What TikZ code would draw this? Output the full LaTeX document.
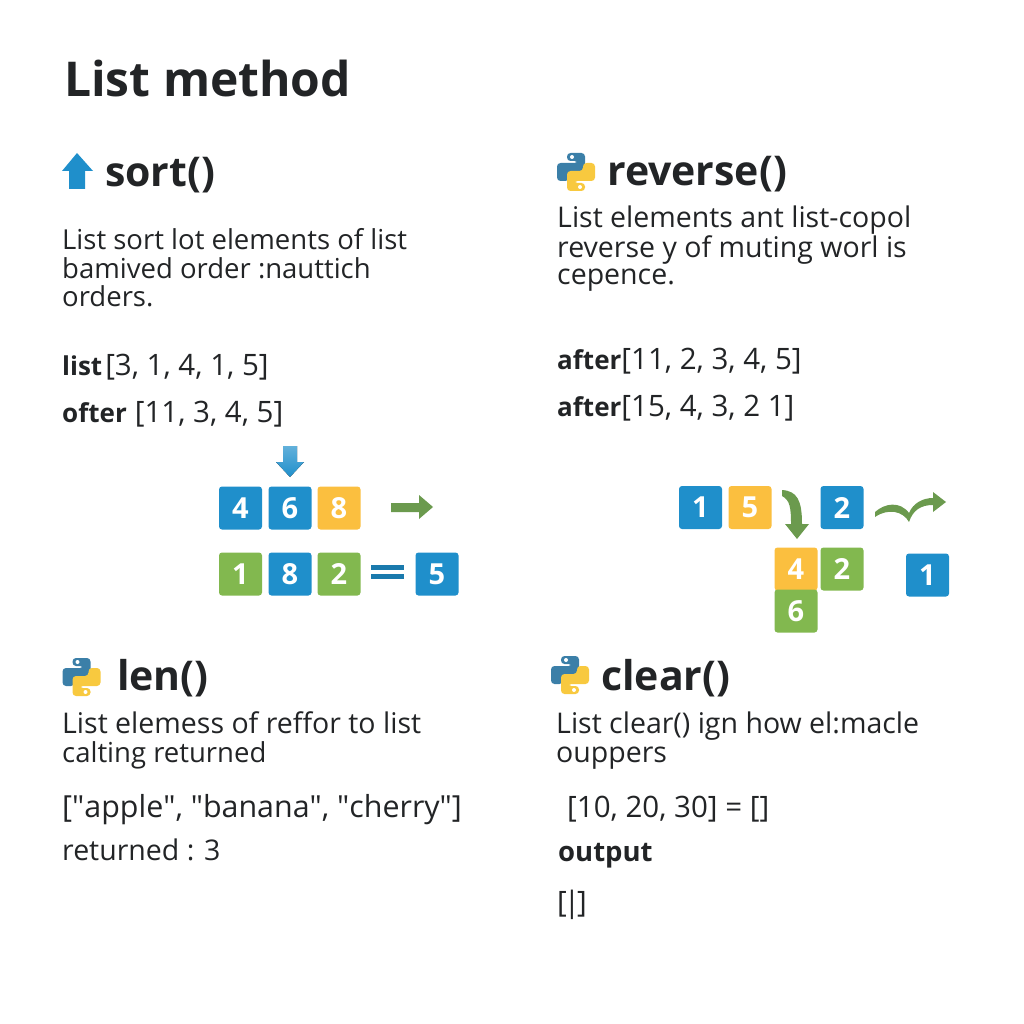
\documentclass[tikz,border=0pt]{standalone}
\usepackage{fontspec}
\setmainfont{Open Sans}
\newfontfamily\quotefont{Open Sans}
\definecolor{tileblue}{HTML}{1F8FCB}
\definecolor{tileyellow}{HTML}{FBBF3F}
\definecolor{tilegreen}{HTML}{82B84F}
\definecolor{arrowgreen}{HTML}{6B9A4E}
\definecolor{pyblue}{HTML}{3B7FA8}
\definecolor{pyyellow}{HTML}{F8C93F}
\definecolor{inkdark}{HTML}{222426}
\newcommand{\listword}[1]{{\fontsize{26}{26}\selectfont\bfseries #1}}
\newcommand{\dq}{{\quotefont"}}
\tikzset{
  titletext/.style={anchor=base west,inner sep=0pt,text=inkdark,font=\fontsize{48}{48}\selectfont\bfseries},
  headtext/.style={anchor=base west,inner sep=0pt,text=inkdark,font=\fontsize{41}{41}\selectfont\bfseries},
  bodytext/.style={anchor=base west,inner sep=0pt,text=inkdark,font=\fontsize{28.5}{28.5}\selectfont},
  sorttext/.style={bodytext,font=\fontsize{27.5}{27.5}\selectfont},
  listtext/.style={anchor=base west,inner sep=0pt,text=inkdark,font=\fontsize{29.5}{29.5}\selectfont},
  tile/.style={rounded corners=3pt,minimum size=43pt,inner sep=0pt,text=white,font=\fontsize{29}{29}\selectfont\bfseries},
  pylogo/.pic={
    \fill[pyblue,rounded corners=3.5pt] (-9,-11) -- (-9,-19) -- (9,-19) -- (9,1) -- (-7,1) -- (-7,9) -- (-19,9) -- (-19,-9) -- (2,-9) -- (2,-11) -- cycle;
    \fill[pyyellow,rounded corners=3.5pt] (9,11) -- (9,19) -- (-9,19) -- (-9,-1) -- (7,-1) -- (7,-9) -- (19,-9) -- (19,9) -- (-2,9) -- (-2,11) -- cycle;
    \fill[white] (-4,-15) circle (2);
    \fill[white] (4,15) circle (2);
  }
}
\begin{document}
\begin{tikzpicture}[x=1pt,y=-1pt]
\useasboundingbox (0,0) rectangle (1024,1024);

\node[titletext] (title) at (64,97) {List method};

% sort
\fill[tileblue] (77,153) -- (93,171) -- (85,171) -- (85,189) -- (69,189) -- (69,171) -- (62,171) -- cycle;
\node[headtext] (sorthead) at (105,187) {sort()};
\node[sorttext] (sortone) at (62,249) {List sort lot elements of list};
\node[sorttext] (sorttwo) at (62,278) {bamived order :nauttich};
\node[sorttext] (sortthree) at (62,306) {orders.};
\node[listtext] (sortlist) at (62,375) {\listword{list}\hspace{3pt}[3, 1, 4, 1, 5]};
\node[listtext] (sortafter) at (62,422) {\listword{ofter}\hspace{8pt}[11, 3, 4, 5]};

\fill[top color=tileblue!70!white,bottom color=tileblue] (283,446) -- (297,446) -- (297,462) -- (304,462) -- (290,477) -- (276,462) -- (283,462) -- cycle;
\node[tile,fill=tileblue] (sa) at (240.5,508) {4};
\node[tile,fill=tileblue] (sb) at (290,508) {6};
\node[tile,fill=tileyellow] (sc) at (339,508) {8};
\fill[arrowgreen] (391,503) -- (419,503) -- (419,495) -- (433,507) -- (419,519) -- (419,512) -- (391,512) -- cycle;
\node[tile,fill=tilegreen] (sd) at (240.5,574) {1};
\node[tile,fill=tileblue] (se) at (290,574) {8};
\node[tile,fill=tilegreen] (sf) at (339,574) {2};
\fill[tileblue!85!black] (371,565) rectangle (404,570);
\fill[tileblue!85!black] (371,574) rectangle (404,579);
\node[tile,fill=tileblue] (sg) at (437,574) {5};

% reverse
\pic at (576,172) {pylogo};
\node[headtext] (revhead) at (607,186) {reverse()};
\node[bodytext] (revone) at (557,228) {List elements ant list-copol};
\node[bodytext] (revtwo) at (557,257) {reverse y of muting worl is};
\node[bodytext] (revthree) at (557,284) {cepence.};
\node[listtext] (revlist) at (557,369) {\listword{after}[11, 2, 3, 4, 5]};
\node[listtext] (revafter) at (557,416) {\listword{after}[15, 4, 3, 2 1]};

\node[tile,fill=tileblue] (ra) at (700.5,507.5) {1};
\node[tile,fill=tileyellow] (rb) at (750,507.5) {5};
\node[tile,fill=tileblue] (rc) at (842,507.5) {2};
\fill[arrowgreen] (782,490) .. controls (797,491) and (802,500) .. (802,524) -- (809,524) -- (797,539) -- (785,524) -- (791,524) .. controls (791,508) and (790,500) .. (782,496) -- cycle;
\fill[arrowgreen] (875,512) .. controls (885,503) and (900,501) .. (909,513) .. controls (913,503) and (923,498) .. (933,498) -- (933,492) -- (946,502) -- (933,512) -- (933,505) .. controls (921,505) and (913,510) .. (909,522) .. controls (903,511) and (888,508) .. (875,517) -- cycle;
\node[tile,fill=tileyellow] (rd) at (796,569) {4};
\node[tile,fill=tilegreen] (re) at (842,569) {2};
\node[tile,fill=tilegreen] (rf) at (796,611) {6};
\node[tile,fill=tileblue] (rg) at (927.5,575) {1};

% len
\pic at (81.5,677) {pylogo};
\node[headtext] (lenhead) at (117,690) {len()};
\node[bodytext] (lenone) at (62,733) {List elemess of reffor to list};
\node[sorttext] (lentwo) at (62,762) {calting returned};
\node[listtext,font=\fontsize{30.4}{30.4}\selectfont] (lenlist) at (62,817) {[\dq apple\dq, \dq banana\dq, \dq cherry\dq]};
\node[bodytext] (lenout) at (62,860) {returned : 3};

% clear
\pic at (570,675) {pylogo};
\node[headtext] (clearhead) at (601,690) {clear()};
\node[bodytext] (clearone) at (556,733) {List clear() ign how el:macle};
\node[bodytext] (cleartwo) at (556,762) {ouppers};
\node[listtext] (clearlist) at (567,817) {[10, 20, 30] = []};
\node[sorttext] (clearout) at (558,861) {\textbf{output}};
\node[listtext] (clearres) at (557,912) {[\hspace{-3pt}|\hspace{-3pt}]};
\end{tikzpicture}
\end{document}
